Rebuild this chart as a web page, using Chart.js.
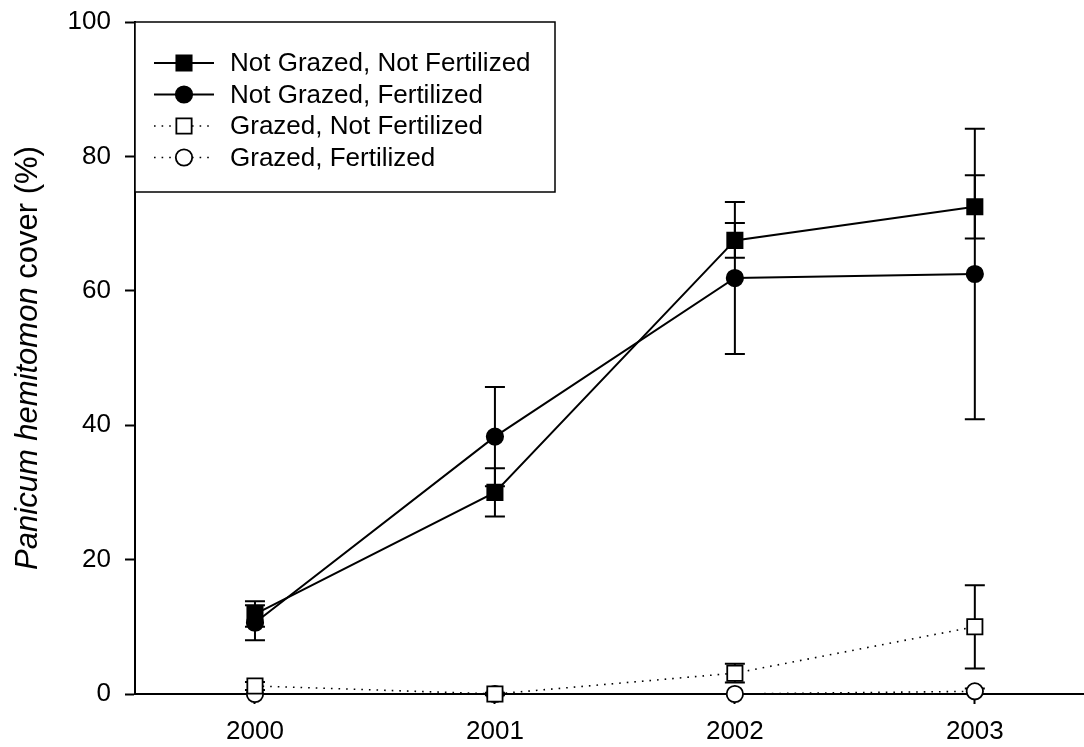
<!DOCTYPE html>
<html>
<head>
<meta charset="utf-8">
<script src="https://cdn.jsdelivr.net/npm/chart.js@4.4.1/dist/chart.umd.min.js"></script>
<style>
  html, body { margin: 0; padding: 0; background: #fff; }
  #wrap { width: 1084px; height: 747px; }
</style>
</head>
<body>
<div id="wrap"><canvas id="myChart" width="1084" height="747"></canvas></div>
<script>
// Data
const years = [2000, 2001, 2002, 2003];
const yTicks = [0, 20, 40, 60, 80, 100];

const ngnfMean = [11.9, 30.0, 67.5, 72.5];   // Not Grazed, Not Fertilized
const ngnfErr  = [1.9, 3.6, 2.6, 4.7];
const ngfMean  = [10.6, 38.3, 61.9, 62.5];   // Not Grazed, Fertilized
const ngfErr   = [2.6, 7.4, 11.3, 21.6];
const gnfMean  = [1.2, 0.0, 3.1, 10.0];      // Grazed, Not Fertilized
const gnfErr   = [0.6, 0.2, 1.4, 6.2];
const gfMean   = [0.0, 0.0, 0.0, 0.4];       // Grazed, Fertilized
const gfErr    = [0.0, 0.0, 0.0, 0.4];

const FONT = "'Liberation Sans', Arial, sans-serif";

function toPoints(vals) {
  return years.map((x, i) => ({ x: x, y: vals[i] }));
}

function makeSet(label, vals, errs, style, filled, dotted) {
  return {
    label: label,
    data: toPoints(vals),
    errors: errs,
    borderColor: '#000',
    borderWidth: dotted ? 1.6 : 2,
    borderDash: dotted ? [1.6, 6] : [],
    pointStyle: style,
    pointRadius: style === 'rect' ? 10.8 : 8.2,
    pointBorderWidth: 1.8,
    pointBackgroundColor: filled ? '#000' : '#fff',
    pointBorderColor: '#000',
    tension: 0,
    fill: false,
    clip: false
  };
}

// keep the plot area where the axes are, without label padding
function fixPadding(scale) {
  scale.paddingTop = 0;
  scale.paddingBottom = 0;
  scale.paddingLeft = 0;
  scale.paddingRight = 0;
}

// Error bars, drawn under the markers
const errorBars = {
  id: 'errorBars',
  beforeDatasetsDraw(chart) {
    const ctx = chart.ctx;
    const yScale = chart.scales.y;
    ctx.save();
    ctx.strokeStyle = '#000';
    ctx.lineWidth = 2;
    chart.data.datasets.forEach((ds, i) => {
      const meta = chart.getDatasetMeta(i);
      meta.data.forEach((pt, j) => {
        const e = ds.errors[j];
        if (!e) return;
        const v = ds.data[j].y;
        const yTop = yScale.getPixelForValue(v + e);
        const yBot = yScale.getPixelForValue(v - e);
        ctx.beginPath();
        ctx.moveTo(pt.x, yTop); ctx.lineTo(pt.x, yBot);
        ctx.moveTo(pt.x - 10, yTop); ctx.lineTo(pt.x + 10, yTop);
        ctx.moveTo(pt.x - 10, yBot); ctx.lineTo(pt.x + 10, yBot);
        ctx.stroke();
      });
    });
    ctx.restore();
  }
};

// Boxed legend with line + marker samples, and the mixed-style y title
const boxLegend = {
  id: 'boxLegend',
  afterDraw(chart) {
    const ctx = chart.ctx;
    const area = chart.chartArea;
    ctx.save();

    // y axis title
    ctx.translate(28, (area.top + area.bottom) / 2);
    ctx.rotate(-Math.PI / 2);
    ctx.fillStyle = '#000';
    ctx.textBaseline = 'middle';
    const part1 = 'Panicum hemitomon';
    const part2 = ' cover (%)';
    ctx.font = 'italic 31px ' + FONT;
    const w1 = ctx.measureText(part1).width;
    ctx.font = '31px ' + FONT;
    const w2 = ctx.measureText(part2).width;
    let tx = -(w1 + w2) / 2;
    ctx.textAlign = 'left';
    ctx.font = 'italic 31px ' + FONT;
    ctx.fillText(part1, tx, 0);
    ctx.font = '31px ' + FONT;
    ctx.fillText(part2, tx + w1, 0);
    ctx.setTransform(1, 0, 0, 1, 0, 0);

    // legend box
    const left = area.left, top = area.top;
    const right = 555, bottom = 192;
    ctx.fillStyle = '#fff';
    ctx.fillRect(left, top, right - left, bottom - top);
    ctx.strokeStyle = '#000';
    ctx.lineWidth = 1.5;
    ctx.strokeRect(left, top, right - left, bottom - top);

    ctx.font = '26px ' + FONT;
    ctx.textAlign = 'left';
    ctx.textBaseline = 'middle';
    chart.data.datasets.forEach((ds, i) => {
      const y = 63 + i * 31.5;
      ctx.strokeStyle = '#000';
      ctx.lineWidth = ds.borderWidth;
      ctx.setLineDash(ds.borderDash);
      ctx.beginPath();
      ctx.moveTo(154, y); ctx.lineTo(214, y);
      ctx.stroke();
      ctx.setLineDash([]);
      ctx.fillStyle = ds.pointBackgroundColor;
      ctx.lineWidth = ds.pointBorderWidth;
      Chart.helpers.drawPoint(ctx, {
        pointStyle: ds.pointStyle,
        radius: ds.pointRadius,
        borderWidth: ds.pointBorderWidth,
        rotation: 0
      }, 184, y);
      ctx.fillStyle = '#000';
      ctx.fillText(ds.label, 230, y + 1);
    });
    ctx.restore();
  }
};

const ctx = document.getElementById('myChart').getContext('2d');
new Chart(ctx, {
  type: 'line',
  data: {
    datasets: [
      makeSet('Not Grazed, Not Fertilized', ngnfMean, ngnfErr, 'rect', true, false),
      makeSet('Not Grazed, Fertilized', ngfMean, ngfErr, 'circle', true, false),
      makeSet('Grazed, Not Fertilized', gnfMean, gnfErr, 'rect', false, true),
      makeSet('Grazed, Fertilized', gfMean, gfErr, 'circle', false, true)
    ]
  },
  options: {
    responsive: false,
    animation: false,
    devicePixelRatio: 1,
    layout: { autoPadding: false, padding: { top: 22, right: 0, left: 0, bottom: 0 } },
    plugins: {
      legend: { display: false },
      tooltip: { enabled: false },
      title: { display: false }
    },
    scales: {
      x: {
        type: 'linear',
        min: 1999.5,
        max: 2003.455,
        afterBuildTicks(scale) {
          scale.ticks = years.map(v => ({ value: v }));
        },
        afterFit(scale) { scale.height = 53; fixPadding(scale); },
        grid: {
          display: true,
          drawOnChartArea: false,
          drawTicks: true,
          tickLength: 10,
          tickWidth: 2,
          tickColor: '#000'
        },
        border: { display: true, color: '#000', width: 2 },
        ticks: {
          color: '#000',
          padding: 12,
          maxRotation: 0,
          font: { family: FONT, size: 26 },
          callback: v => String(v)
        }
      },
      y: {
        min: 0,
        max: 100,
        afterBuildTicks(scale) {
          scale.ticks = yTicks.map(v => ({ value: v }));
        },
        afterFit(scale) { scale.width = 135; fixPadding(scale); },
        grid: {
          display: true,
          drawOnChartArea: false,
          drawTicks: true,
          tickLength: 10,
          tickWidth: 2,
          tickColor: '#000'
        },
        border: { display: true, color: '#000', width: 2 },
        ticks: {
          color: '#000',
          padding: 14,
          font: { family: FONT, size: 26 }
        }
      }
    }
  },
  plugins: [errorBars, boxLegend]
});
</script>
</body>
</html>
